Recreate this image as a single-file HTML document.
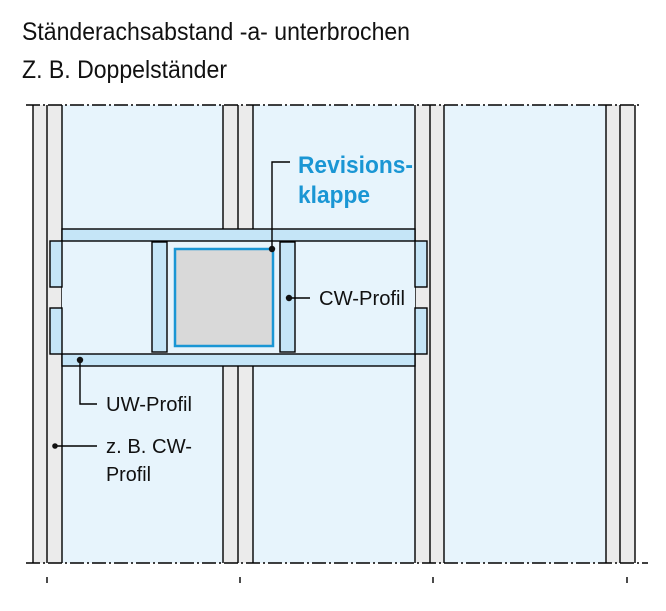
<!DOCTYPE html>
<html><head><meta charset="utf-8"><style>html,body{margin:0;padding:0;background:#fff}svg{display:block}</style></head><body>
<svg width="666" height="611" viewBox="0 0 666 611" xmlns="http://www.w3.org/2000/svg" font-family="Liberation Sans, Arial, sans-serif">
<text x="22" y="40" font-size="25" fill="#111" textLength="388" lengthAdjust="spacingAndGlyphs">Ständerachsabstand -a- unterbrochen</text>
<text x="22" y="78" font-size="25" fill="#111" textLength="205" lengthAdjust="spacingAndGlyphs">Z. B. Doppelständer</text>
<g>
<rect x="33" y="105" width="29" height="458" fill="#ebebeb"/>
<rect x="223" y="105" width="30" height="458" fill="#ebebeb"/>
<rect x="415" y="105" width="29" height="458" fill="#ebebeb"/>
<rect x="606" y="105" width="29" height="458" fill="#ebebeb"/>
<rect x="62" y="105" width="161" height="458" fill="#e7f4fc"/>
<rect x="253" y="105" width="162" height="458" fill="#e7f4fc"/>
<rect x="444" y="105" width="162" height="458" fill="#e7f4fc"/>
</g>
<g stroke="#000" stroke-width="1.4">
<line x1="33" y1="105" x2="33" y2="563"/><line x1="47" y1="105" x2="47" y2="563"/><line x1="62" y1="105" x2="62" y2="563"/>
<line x1="223" y1="105" x2="223" y2="563"/><line x1="238" y1="105" x2="238" y2="563"/><line x1="253" y1="105" x2="253" y2="563"/>
<line x1="415" y1="105" x2="415" y2="563"/><line x1="430" y1="105" x2="430" y2="563"/><line x1="444" y1="105" x2="444" y2="563"/>
<line x1="606" y1="105" x2="606" y2="563"/><line x1="620" y1="105" x2="620" y2="563"/><line x1="635" y1="105" x2="635" y2="563"/>
</g>
<g stroke="#000" stroke-width="1.4" stroke-dasharray="14,3,2,3">
<line x1="26" y1="105" x2="642" y2="105"/>
<line x1="26" y1="563" x2="648" y2="563"/>
</g>
<g stroke="#000" stroke-width="1.4">
<line x1="47" y1="577" x2="47" y2="583"/><line x1="240" y1="577" x2="240" y2="583"/><line x1="433" y1="577" x2="433" y2="583"/><line x1="627" y1="577" x2="627" y2="583"/>
</g>
<rect x="62" y="241" width="353" height="113" fill="#e7f4fc"/>
<g stroke="#000" stroke-width="1.4" fill="#c5e5f7">
<rect x="62" y="229" width="353" height="12"/>
<rect x="62" y="354" width="353" height="12"/>
<rect x="50" y="241" width="12" height="46"/>
<rect x="50" y="308" width="12" height="46"/>
<rect x="415" y="241" width="12" height="46"/>
<rect x="415" y="308" width="12" height="46"/>
<rect x="152" y="242" width="15" height="110"/>
<rect x="280" y="242" width="15" height="110"/>
</g>
<rect x="175" y="249" width="98" height="97" fill="#d9d9d9" stroke="#1a96d4" stroke-width="2.5"/>
<g stroke="#000" stroke-width="1.4" fill="none">
<polyline points="272,249 272,162 290,162"/>
<polyline points="289,298 310,298"/>
<polyline points="80,360 80,404 97,404"/>
<polyline points="55,446 97,446"/>
</g>
<g fill="#111"><circle cx="272" cy="249" r="3.2"/><circle cx="289" cy="298" r="3.2"/><circle cx="80" cy="360" r="3.2"/><circle cx="55" cy="446" r="2.8"/></g>
<text x="298" y="173" font-size="24" font-weight="bold" fill="#1a96d4" textLength="115" lengthAdjust="spacingAndGlyphs">Revisions-</text>
<text x="298" y="203" font-size="24" font-weight="bold" fill="#1a96d4" textLength="72" lengthAdjust="spacingAndGlyphs">klappe</text>
<g font-size="20" fill="#111">
<text x="319" y="305" textLength="86" lengthAdjust="spacingAndGlyphs">CW-Profil</text>
<text x="106" y="411" textLength="86" lengthAdjust="spacingAndGlyphs">UW-Profil</text>
<text x="106" y="453" textLength="86" lengthAdjust="spacingAndGlyphs">z. B. CW-</text>
<text x="106" y="481" textLength="45" lengthAdjust="spacingAndGlyphs">Profil</text>
</g>
</svg>
</body></html>
